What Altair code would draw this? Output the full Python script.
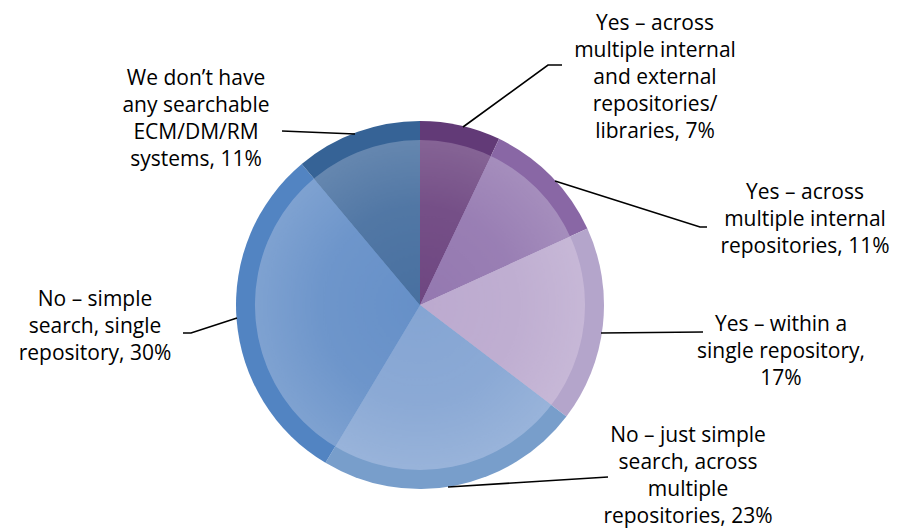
import altair as alt
import pandas as pd

# ---- data ----
categories = [
    "Yes – across multiple internal and external repositories/ libraries",
    "Yes – across multiple internal repositories",
    "Yes – within a single repository",
    "No – just simple search, across multiple repositories",
    "No – simple search, single repository",
    "We don’t have any searchable ECM/DM/RM systems",
]
values = [7, 11, 17, 23, 30, 11]
label_texts = [
    "Yes – across\nmultiple internal\nand external\nrepositories/\nlibraries, 7%",
    "Yes – across\nmultiple internal\nrepositories, 11%",
    "Yes – within a\nsingle repository,\n17%",
    "No – just simple\nsearch, across\nmultiple\nrepositories, 23%",
    "No – simple\nsearch, single\nrepository, 30%",
    "We don’t have\nany searchable\nECM/DM/RM\nsystems, 11%",
]

# ---- styling / layout ----
rim_colors = ["#623a77", "#8967a5", "#b4a5cb", "#789ecb", "#5284c2", "#366396"]
fill_colors = ["#6e4681", "#9478b0", "#bcaacf", "#85a5d3", "#6690c8", "#4870a0"]
CX, CY, R_OUT, R_IN = 420, 305, 184, 165
W, H = 901, 529

# position of the first line of each label (text block is center aligned)
label_x = [655, 805, 781, 688, 95, 196]
label_y = [24, 193, 325, 436, 300, 79]

# connector polylines (label layout)
conn_id = [0, 0, 0, 1, 1, 1, 2, 2, 3, 3, 4, 4, 4, 5, 5]
conn_seq = [0, 1, 2, 0, 1, 2, 0, 1, 0, 1, 0, 1, 2, 0, 1]
conn_x = [463, 548, 562, 555, 700, 707, 601, 703, 448, 608, 237, 191, 183, 355, 282]
conn_y = [127, 65, 65, 181, 227, 227, 333, 332, 487, 477, 318, 333, 333, 134, 131]

pie_df = pd.DataFrame({
    "category": categories,
    "value": values,
    "idx": list(range(len(values))),
})
label_df = pd.DataFrame({"text": label_texts, "x": label_x, "y": label_y})
conn_df = pd.DataFrame({"id": conn_id, "seq": conn_seq, "x": conn_x, "y": conn_y})

xs = alt.Scale(domain=[0, W], range=[0, W])
ys = alt.Scale(domain=[0, H], range=[0, H])

theta = alt.Theta("value:Q", stack=True)
order = alt.Order("idx:Q")

rim = alt.Chart(pie_df).mark_arc(outerRadius=R_OUT, innerRadius=0).encode(
    theta=theta,
    order=order,
    color=alt.Color("category:N", scale=alt.Scale(domain=categories, range=rim_colors), legend=None),
    x=alt.value(CX),
    y=alt.value(CY),
)

inner = alt.Chart(pie_df).mark_arc(outerRadius=R_IN, innerRadius=0).encode(
    theta=theta,
    order=order,
    fill=alt.Fill("category:N", scale=alt.Scale(domain=categories, range=fill_colors), legend=None),
    x=alt.value(CX),
    y=alt.value(CY),
)

shine = alt.Chart(pie_df.head(1)).mark_arc(
    outerRadius=R_IN, innerRadius=0, theta=0, theta2=6.2832,
    fill={
        "gradient": "radial",
        "x1": 0.5, "y1": 0.5, "r1": 0,
        "x2": 0.5, "y2": 0.5, "r2": 0.5,
        "stops": [
            {"offset": 0, "color": "rgba(255,255,255,0)"},
            {"offset": 0.6, "color": "rgba(255,255,255,0.05)"},
            {"offset": 1, "color": "rgba(255,255,255,0.16)"},
        ],
    },
).encode(x=alt.value(CX), y=alt.value(CY))

connectors = alt.Chart(conn_df).mark_line(color="#000000", strokeWidth=1.6).encode(
    x=alt.X("x:Q", scale=xs, axis=None),
    y=alt.Y("y:Q", scale=ys, axis=None),
    detail="id:N",
    order="seq:Q",
)

labels = alt.Chart(label_df).mark_text(
    font="Open Sans", fontSize=21, color="#000000", align="center", baseline="middle",
    lineBreak="\n", lineHeight=27,
).encode(
    x=alt.X("x:Q", scale=xs, axis=None),
    y=alt.Y("y:Q", scale=ys, axis=None),
    text="text:N",
)

chart = alt.layer(rim, inner, shine, connectors, labels).resolve_scale(
    color="independent", theta="independent"
).properties(
    width=W, height=H, padding=0, autosize=alt.AutoSizeParams(type="none"),
    background="#ffffff",
).configure_view(stroke=None)

chart.save("out.html", embed_options={"renderer": "svg", "actions": False})
